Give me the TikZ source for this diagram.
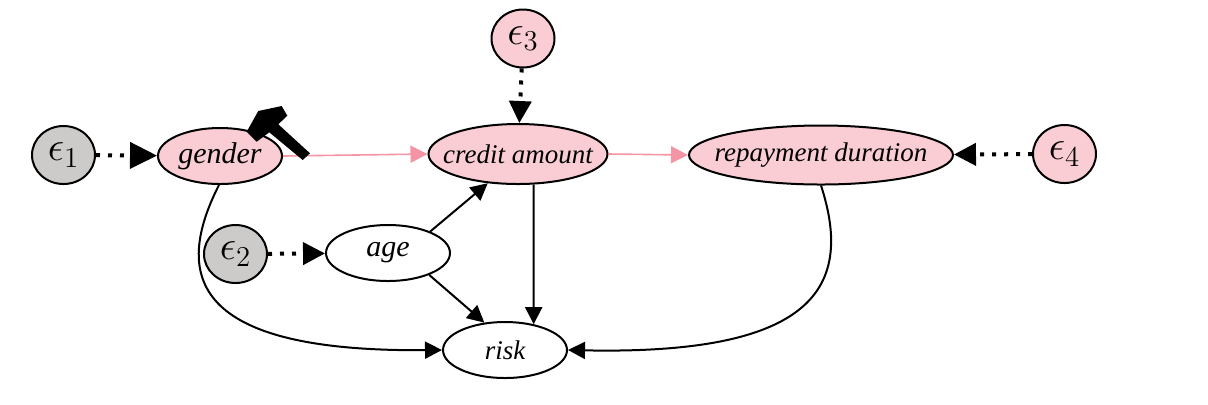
\documentclass[tikz,border=0pt]{standalone}
\usepackage{fontspec}
\setmainfont{Liberation Serif}
\usepackage{xcolor}
\usetikzlibrary{arrows.meta,shapes.geometric}
\definecolor{nodepink}{HTML}{F9CDD3}
\definecolor{edgepink}{HTML}{F594A4}
\definecolor{noisegray}{HTML}{CDCACA}
\newcommand{\varname}[1]{\makebox[0pt]{#1}}
\begin{document}
\begin{tikzpicture}[x=0.5pt,y=-0.5pt,
		var/.style={draw,ellipse,line width=1pt,inner sep=0pt,font=\fontsize{13.5}{15}\selectfont\itshape},
		bigvar/.style={var,font=\fontsize{15}{17}\selectfont\itshape},
		noise/.style={draw,ellipse,line width=1pt,inner sep=0pt,minimum width=31.5pt,minimum height=29pt,font=\fontsize{20.74}{24}\selectfont},
		arrow/.style={line width=1pt,-{Triangle[length=8.5pt,width=8.5pt]}},
		dotarrow/.style={line width=2pt,dash pattern=on 2pt off 4pt,-{Triangle[length=11pt,width=11pt]}},
		intervened/.style={line width=0.8pt,edgepink,-{Triangle[length=8.5pt,width=8.5pt]}}]
		\useasboundingbox (0,0) rectangle (1208,404);

		\node[bigvar,fill=nodepink,minimum width=62pt,minimum height=28pt] (gender) at (220,156) {\varname{gender}};
		\node[var,fill=nodepink,minimum width=89.5pt,minimum height=30pt] (credit) at (518,154) {\varname{credit amount}};
		\node[var,fill=nodepink,minimum width=132pt,minimum height=29.5pt] (repayment) at (821,155) {\varname{repayment duration}};
		\node[bigvar,fill=white,minimum width=62pt,minimum height=28pt] (age) at (388,253) {\varname{age}};
		\node[var,fill=white,minimum width=62pt,minimum height=28pt] (risk) at (505,350) {\varname{risk}};

		\node[noise,fill=noisegray] (eps1) at (63.5,155) {$\epsilon_1$};
		\node[noise,fill=noisegray] (eps2) at (235.5,254) {$\epsilon_2$};
		\node[noise,fill=nodepink] (eps3) at (523,38.5) {$\epsilon_3$};
		\node[noise,fill=nodepink] (eps4) at (1064.5,154) {$\epsilon_4$};

		\draw[dotarrow,-{Triangle[length=13.5pt,width=13pt]}] (eps1) -- (gender);
		\draw[dotarrow] (eps2) -- (age);
		\draw[dotarrow] (eps3) -- (credit);
		\draw[dotarrow] (eps4) -- (repayment);

		\draw[intervened] (gender.east) -- (credit.west);
		\draw[intervened] (credit.east) -- (repayment.west);

		\draw[arrow] (age.27) -- (credit.224);
		\draw[arrow] (age.-28) -- (risk.127);
		\draw[arrow] (credit.-63) -- (risk.42);
		\draw[arrow] (gender.-92) .. controls (168,285) and (205,352) .. (risk.west);
		\draw[arrow] (repayment.-90) .. controls (855,290) and (810,355) .. (risk.east);

		% hammer
		\fill (246.7,131.7) -- (258.3,111) -- (281.7,106) -- (287.3,115.7) -- (278.3,124.3) -- (310,153.3) -- (302.7,160) -- (269.3,132.3) -- (256.7,141.7) -- cycle;
	\end{tikzpicture}
\end{document}
